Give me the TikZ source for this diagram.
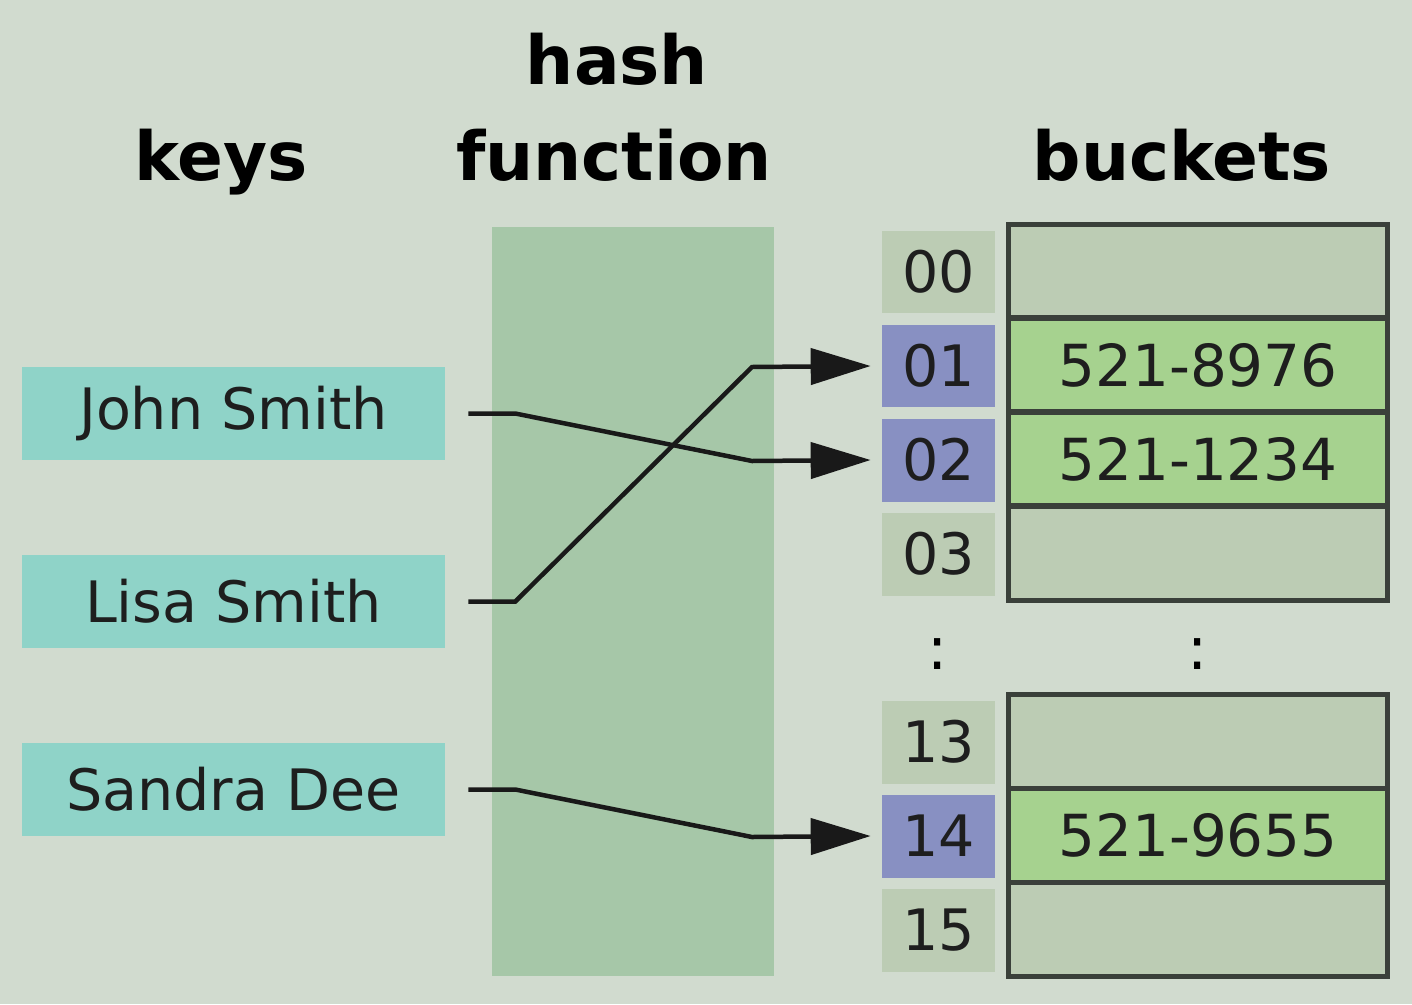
\documentclass[tikz,border=0pt]{standalone}
\usepackage{fontspec}
\setmainfont{DejaVu Sans}
\usetikzlibrary{arrows.meta}
\definecolor{bgc}{RGB}{209,219,207}
\definecolor{keyc}{RGB}{143,211,200}
\definecolor{hashc}{RGB}{166,199,168}
\definecolor{idxg}{RGB}{188,204,180}
\definecolor{idxb}{RGB}{136,144,194}
\definecolor{bgreen}{RGB}{166,210,143}
\definecolor{bord}{RGB}{58,64,58}
\definecolor{txt}{RGB}{30,30,30}
\tikzset{
  hdr/.style={font=\fontsize{38.5}{46}\selectfont\bfseries, text=black, anchor=base, inner sep=0},
  keybox/.style={fill=keyc, minimum width=8.46cm, minimum height=1.86cm, inner sep=0, text=txt, font=\fontsize{32.5}{38}\selectfont},
  idx/.style={fill=idxg, minimum width=2.26cm, minimum height=1.66cm, inner sep=0, text=txt, font=\fontsize{32.5}{38}\selectfont},
  idxhit/.style={idx, fill=idxb},
  cell/.style={draw=bord, line width=0.1cm, fill=idxg, minimum width=7.6cm, minimum height=1.88cm, inner sep=0, text=txt, font=\fontsize{33}{38}\selectfont},
  cellhit/.style={cell, fill=bgreen},
  conn/.style={line width=0.09cm, draw=black!90, -{Triangle[length=1.2cm,width=0.72cm]}},
  dots/.style={inner sep=0, text=black, font=\fontsize{34}{38}\selectfont},
}
\begin{document}
\begin{tikzpicture}[x=0.02cm, y=-0.02cm]
\fill[bgc] (0,0) rectangle (1412,1004);
\useasboundingbox (0,0) rectangle (1412,1004);
% headers
\node[hdr] (hkeys) at (221,180) {keys};
\node[hdr] (hhash) at (617,84) {hash};
\node[hdr] (hfun) at (614,180) {function};
\node[hdr] (hbuck) at (1182,180) {buckets};
% hash function area
\fill[hashc] (492,227) rectangle (774,976);
% keys
\node[keybox] (john) at (233.5,413.5) {John Smith};
\node[keybox] (lisa) at (233.5,601.5) {Lisa Smith};
\node[keybox] (sandra) at (233.5,789.5) {Sandra Dee};
% indices
\node[idx] (i00) at (938.5,272) {00};
\node[idxhit] (i01) at (938.5,366) {01};
\node[idxhit] (i02) at (938.5,460) {02};
\node[idx] (i03) at (938.5,554) {03};
\node[dots] (d1) at (938,654) {:};
\node[idx] (i13) at (938.5,742) {13};
\node[idxhit] (i14) at (938.5,836) {14};
\node[idx] (i15) at (938.5,930) {15};
% buckets
\node[cell] (b00) at (1198,271) {};
\node[cellhit] (b01) at (1198,365) {521-8976};
\node[cellhit] (b02) at (1198,459) {521-1234};
\node[cell] (b03) at (1198,553) {};
\node[dots] (d2) at (1198,654) {:};
\node[cell] (b13) at (1198,741) {};
\node[cellhit] (b14) at (1198,835) {521-9655};
\node[cell] (b15) at (1198,929) {};
% connectors
\draw[conn] ([xshift=0.46cm]john.east) -- ++(47,0) -- (752,461) -- ([xshift=-0.22cm]i02.west);
\draw[conn] ([xshift=0.46cm]lisa.east) -- ++(47,0) -- (752,367) -- ([xshift=-0.22cm]i01.west);
\draw[conn] ([xshift=0.46cm]sandra.east) -- ++(47,0) -- (752,837) -- ([xshift=-0.22cm]i14.west);
\end{tikzpicture}
\end{document}
